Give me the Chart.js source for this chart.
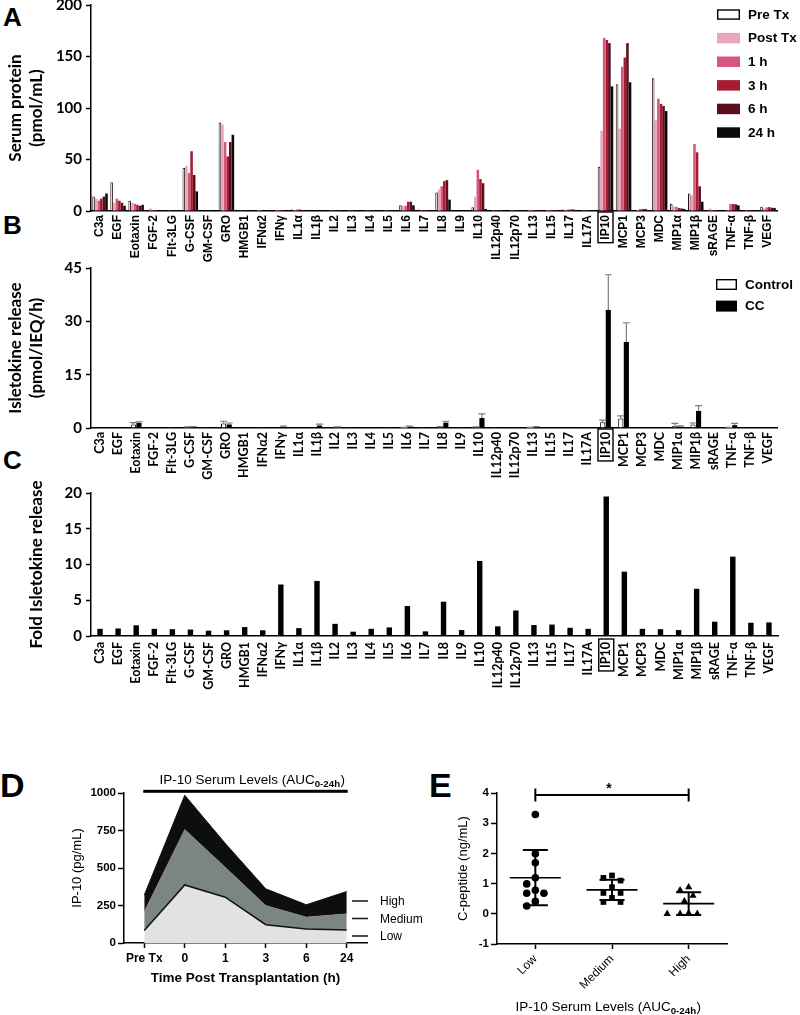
<!DOCTYPE html>
<html><head><meta charset="utf-8">
<script src="https://cdn.jsdelivr.net/npm/chart.js@4.4.0/dist/chart.umd.min.js"></script>
<style>
html,body{margin:0;padding:0;background:#fff;}
body{width:800px;height:1015px;position:relative;overflow:hidden;}
canvas{position:absolute;}
.lt{position:absolute;font-family:"Liberation Sans",Arial,sans-serif;font-weight:bold;line-height:1;color:#000;}
</style></head><body>
<div class="lt" style="left:3px;top:3.6px;font-size:26px">A</div>
<div class="lt" style="left:3px;top:211.6px;font-size:26px">B</div>
<div class="lt" style="left:3px;top:446.6px;font-size:26px">C</div>
<div class="lt" style="left:0px;top:767.6px;font-size:34px">D</div>
<div class="lt" style="left:429px;top:767.6px;font-size:34px">E</div>
<canvas id="cA" width="800" height="275" style="left:0;top:-10px"></canvas>
<canvas id="cB" width="800" height="230" style="left:0;top:255px"></canvas>
<canvas id="cC" width="800" height="215" style="left:0;top:480px"></canvas>
<canvas id="cD" width="430" height="315" style="left:0;top:700px"></canvas>
<canvas id="cE" width="400" height="315" style="left:400px;top:700px"></canvas>
<script>
// ---------- DATA ----------
const cytokines = ['C3a','EGF','Eotaxin','FGF-2','Flt-3LG','G-CSF','GM-CSF','GRO','HMGB1','IFNα2','IFNγ','IL1α','IL1β','IL2','IL3','IL4','IL5','IL6','IL7','IL8','IL9','IL10','IL12p40','IL12p70','IL13','IL15','IL17','IL17A','IP10','MCP1','MCP3','MDC','MIP1α','MIP1β','sRAGE','TNF-α','TNF-β','VEGF'];

// Panel A: serum protein (pmol/mL)
const serumPreTx  = [14,28,10,0.5,0.3,42,0.5,86,0.3,0.5,0.5,1.5,0.3,0.2,0.2,0.2,0.2,5.5,1.5,18,0.3,3.6,0.2,0.2,0.8,0.5,1.5,0.2,43,123,0.5,129,7,17,1,1,0.2,4.2];
const serumPostTx = [12,8,8,2.5,0.3,44,0.5,84,0.3,1,1,1,0.5,0.2,0.2,0.2,0.2,5,0.8,21,0.5,14,0.2,0.2,1,1,1,0.2,78,80,1,88,4.5,15,2.5,1,0.2,2.4];
const serum1h     = [10,12,7,1,0.3,37,0.5,67,0.3,0.8,1,1.5,0.5,0.2,0.2,0.2,0.2,5,0.8,24,0.5,40,0.2,0.2,1,1,1.5,0.2,168,140,2,109,4,65,1,6.8,0.2,3.5];
const serum3h     = [12,10,6,1,0.3,58,0.5,53,0.3,0.5,1,1.5,0.5,0.2,0.2,0.2,0.2,9,1,29,0.5,31,0.2,0.2,1,1,1.5,0.2,166,149,2,104,3,57,1,6.8,0.2,3.8];
const serum6h     = [14,8,5,0.5,0.3,35,0.5,67,0.3,0.5,1,1,0.3,0.2,0.2,0.2,0.2,9,1,30,0.5,27,0.2,0.2,1,1,1.5,0.2,163,163,2,102,2.5,24,0.8,6.5,0.2,3.2];
const serum24h    = [17,5,6,0.5,0.3,19,0.5,74,0.3,0.3,0.5,0.5,0.3,0.2,0.2,0.2,0.2,5.5,0.5,11,0.3,2,0.2,0.2,0.5,0.5,1,0.2,121,125,1,97,2,9,0.5,5.5,0.2,3];
const serumSeries = ['Pre Tx','Post Tx','1 h','3 h','6 h','24 h'];
const serumTicks = [0,50,100,150,200];

// Panel B: isletokine release (pmol/IEQ/h), mean and SD
const releaseControl   = [0.1,0.1,1.0,0.1,0.05,0.2,0.05,1.3,0.1,0.05,0.1,0.1,0.1,0.1,0.05,0.05,0.05,0.1,0.05,0.3,0.05,0.2,0.05,0.05,0.1,0.1,0.1,0.05,1.6,2.7,0.1,0.1,0.6,1.0,0.1,0.1,0.1,0.1];
const releaseControlSD = [0,0,0.5,0,0,0.1,0,0.6,0,0,0,0,0,0,0,0,0,0.1,0,0.1,0,0.1,0,0,0.1,0,0,0,0.6,0.7,0,0,0.7,0.4,0,0.1,0,0];
const releaseCC        = [0.1,0.1,1.4,0.1,0.05,0.3,0.1,1.0,0.1,0.05,0.3,0.1,0.7,0.2,0.05,0.1,0.1,0.3,0.05,1.5,0.05,2.8,0.1,0.2,0.3,0.2,0.15,0.05,33.2,24.2,0.1,0.1,0.4,4.8,0.2,0.8,0.2,0.2];
const releaseCCSD      = [0,0,0.3,0,0,0.1,0,0.4,0,0,0.2,0,0.4,0.1,0,0,0,0.2,0,0.4,0,1.2,0,0,0.1,0,0,0,9.9,5.4,0,0,0.2,1.5,0,0.5,0,0];
const releaseTicks = [0,15,30,45];

// Panel C: fold isletokine release
const foldRelease = [1.0,1.05,1.5,1.0,0.95,0.9,0.75,0.8,1.25,0.8,7.2,1.1,7.7,1.7,0.6,1.0,1.2,4.2,0.65,4.8,0.83,10.5,1.35,3.57,1.53,1.6,1.15,1.0,19.5,9.0,1.0,0.95,0.83,6.6,2.0,11.1,1.85,1.9];
const foldTicks = [0,5,10,15,20];

// Panel D: IP-10 serum levels (pg/mL)
const timePoints = ['Pre Tx','0','1','3','6','24'];
const ip10Low    = [84,387,305,122,93,86];
const ip10Medium = [208,757,505,250,173,195];
const ip10High   = [319,985,664,361,255,343];
const ip10Ticks = [0,250,500,750,1000];

// Panel E: C-peptide (ng/mL) per IP-10 group
const ip10Groups = ['Low','Medium','High'];
const cpepLow    = [3.29,1.99,1.69,1.19,0.99,0.78,0.68,0.68,0.41,0.26];
const cpepMedium = [1.27,1.10,1.19,0.88,0.69,0.69,0.53,0.39,0.39];
const cpepHigh   = [0.78,0.88,0.60,0.42,0.0,0.0,0.0,0.02];
const cpepTicks = [-1,0,1,2,3,4];

// ---------- HELPERS ----------
Chart.defaults.font.family = '"Liberation Sans", Arial, sans-serif';
Chart.defaults.color = '#000';
const LATO = 'Lato, "Liberation Sans", sans-serif';
const ARIAL = '"Liberation Sans", Arial, sans-serif';

function tickCb(list){ return { afterBuildTicks: s => { s.ticks = list.map(v => ({value:v})); } }; }
const plainNum = v => String(v);

function yAxis(min,max,ticks,title,titlePad,width){
  return Object.assign({
    type:'linear', min, max,
    grid:{drawOnChartArea:false, tickLength:5, tickColor:'#000', tickWidth:1.5},
    border:{color:'#000', width:1.5},
    ticks:{padding:4, color:'#000', font:{family:LATO, weight:'bold', size:15}, callback:plainNum},
    title:{display:true, text:title, color:'#000', font:{family:LATO, weight:'bold', size:17, lineHeight:1.25}, padding:{top:titlePad,bottom:0}},
    afterFit: s => { s.width = width; }
  }, tickCb(ticks));
}
function xCat(font, h, pad){
  return {
    type:'category', offset:true,
    grid:{display:false, drawTicks:false},
    border:{display:true, color:'#000', width:1.5},
    ticks:{autoSkip:false, minRotation:90, maxRotation:90, padding:pad, color:'#000', font},
    afterFit: s => { s.height = h; }
  };
}

const boxPlugin = { id:'ipbox', afterDraw(chart, args, o){
  const s = chart.scales.x; const idx = s.getLabels().indexOf('IP10'); if (idx < 0) return;
  const ctx = chart.ctx; ctx.save();
  ctx.font = o.font; const w = ctx.measureText('IP10').width;
  const x = s.getPixelForTick(idx) + (o.dx||0);
  ctx.strokeStyle = '#000'; ctx.lineWidth = 1.4;
  ctx.strokeRect(x - 7.5, s.top + o.pad - 3, 15, w + 6);
  ctx.restore();
}};

const legendPlugin = { id:'boxLegend', afterDraw(chart, args, o){
  const ctx = chart.ctx; ctx.save();
  chart.data.datasets.forEach((ds,i) => {
    const y = o.y + i*o.step;
    ctx.fillStyle = ds.backgroundColor; ctx.fillRect(o.x, y, o.w, o.h);
    if (ds.borderWidth) { ctx.strokeStyle = '#000'; ctx.lineWidth = 1.4; ctx.strokeRect(o.x+0.7, y+0.7, o.w-1.4, o.h-1.4); }
    ctx.fillStyle = '#000'; ctx.font = 'bold 13.5px ' + ARIAL; ctx.textBaseline = 'middle'; ctx.textAlign = 'left';
    ctx.fillText(ds.label, o.x + o.w + 8, y + o.h/2 + 0.5);
  });
  ctx.restore();
}};

const errPlugin = { id:'errbars', afterDatasetsDraw(chart){
  const ctx = chart.ctx, ys = chart.scales.y;
  chart.data.datasets.forEach((ds,di) => {
    if (!ds.sd) return;
    const meta = chart.getDatasetMeta(di);
    meta.data.forEach((bar,i) => {
      const e = ds.sd[i]; if (!e) return;
      const yTop = ys.getPixelForValue(ds.data[i] + e);
      ctx.save(); ctx.strokeStyle = '#7d7d7d'; ctx.lineWidth = 1.2;
      ctx.beginPath(); ctx.moveTo(bar.x, bar.y); ctx.lineTo(bar.x, yTop);
      ctx.moveTo(bar.x-3.5, yTop); ctx.lineTo(bar.x+3.5, yTop); ctx.stroke(); ctx.restore();
    });
  });
}};

const baseOpts = { responsive:false, animation:false, devicePixelRatio:1, events:[] };

// ---------- PANEL A ----------
const serumColors = ['#ffffff','#eaa6be','#d4587c','#a61c30','#5a0f1e','#0b0b0b'];
const serumData = [serumPreTx, serumPostTx, serum1h, serum3h, serum6h, serum24h];
new Chart(document.getElementById('cA'), {
  type:'bar',
  data:{ labels:cytokines, datasets: serumSeries.map((n,i) => ({
    label:n, data:serumData[i], backgroundColor:serumColors[i],
    borderColor: i===0 ? '#2a0f14' : serumColors[i], borderWidth: i===0 ? 1 : 0,
    categoryPercentage:0.86, barPercentage:1.0 })) },
  options: Object.assign({}, baseOpts, {
    layout:{padding:{top:15,left:0,right:23,bottom:0}},
    plugins:{legend:{display:false}, tooltip:{enabled:false},
      boxLegend:{x:717, y:19.3, step:23.6, w:23, h:10.5},
      ipbox:{font:'bold 12px '+ARIAL, pad:4}},
    scales:{
      x: xCat({family:ARIAL, weight:'bold', size:12}, 54, 4),
      y: yAxis(0,200,serumTicks,['Serum protein','(pmol/mL)'],4.5,91)
    }
  }),
  plugins:[legendPlugin, boxPlugin]
});

// ---------- PANEL B ----------
new Chart(document.getElementById('cB'), {
  type:'bar',
  data:{ labels:cytokines, datasets:[
    {label:'Control', data:releaseControl, sd:releaseControlSD, backgroundColor:'#ffffff', borderColor:'#000', borderWidth:1, categoryPercentage:0.62, barPercentage:0.92},
    {label:'CC', data:releaseCC, sd:releaseCCSD, backgroundColor:'#000000', borderColor:'#000', borderWidth:0, categoryPercentage:0.62, barPercentage:0.92}
  ]},
  options: Object.assign({}, baseOpts, {
    layout:{padding:{top:11,left:0,right:23,bottom:0}},
    plugins:{legend:{display:false}, tooltip:{enabled:false},
      boxLegend:{x:716, y:24, step:21.6, w:21, h:11},
      ipbox:{font:'bold 12.5px '+LATO, pad:4}},
    scales:{
      x: xCat({family:LATO, weight:'bold', size:12.5}, 57, 4),
      y: yAxis(0,45,releaseTicks,['Isletokine release','(pmol/IEQ/h)'],4.5,91)
    }
  }),
  plugins:[errPlugin, legendPlugin, boxPlugin]
});

// ---------- PANEL C ----------
new Chart(document.getElementById('cC'), {
  type:'bar',
  data:{ labels:cytokines, datasets:[
    {label:'Fold', data:foldRelease, backgroundColor:'#000', categoryPercentage:1, barPercentage:0.3}
  ]},
  options: Object.assign({}, baseOpts, {
    layout:{padding:{top:12,left:0,right:22,bottom:0}},
    plugins:{legend:{display:false}, tooltip:{enabled:false},
      ipbox:{font:'bold 12.5px '+LATO, pad:6}},
    scales:{
      x: xCat({family:LATO, weight:'bold', size:12.5}, 59, 6),
      y: yAxis(0,20,foldTicks,'Fold Isletokine release',25.4,91)
    }
  }),
  plugins:[boxPlugin]
});

// ---------- text with subscript ----------
function drawSub(ctx, cx, base, main, sub, tail, size){
  const fm = size + 'px ' + ARIAL, fs = 'bold ' + (size*0.72) + 'px ' + ARIAL;
  ctx.font = fm; const w1 = ctx.measureText(main).width, w3 = ctx.measureText(tail).width;
  ctx.font = fs; const w2 = ctx.measureText(sub).width;
  let x = cx - (w1+w2+w3)/2;
  ctx.textAlign = 'left'; ctx.textBaseline = 'alphabetic'; ctx.fillStyle = '#000';
  ctx.font = fm; ctx.fillText(main, x, base); x += w1;
  ctx.font = fs; ctx.fillText(sub, x, base + 3); x += w2 + 0.5;
  ctx.font = fm; ctx.fillText(tail, x, base);
}

// ---------- PANEL D ----------
const dDecor = { id:'dDecor', afterDraw(chart){
  const ctx = chart.ctx, xs = chart.scales.x; ctx.save();
  drawSub(ctx, 252, 84, 'IP-10 Serum Levels (AUC', '0-24h', ')', 13.5);
  ctx.fillStyle = '#000';
  ctx.fillRect(xs.getPixelForValue(0) - 1, 89.8, xs.getPixelForValue(timePoints.length-1) - xs.getPixelForValue(0) + 2, 3);
  // legend
  const items = chart.data.datasets.slice().reverse();
  ctx.font = '12px ' + ARIAL; ctx.textBaseline = 'middle';
  items.forEach((ds,i) => {
    const y = 201 + i*17.5;
    ctx.strokeStyle = '#222'; ctx.lineWidth = 1.6;
    ctx.beginPath(); ctx.moveTo(352, y); ctx.lineTo(368, y); ctx.stroke();
    ctx.fillStyle = '#000'; ctx.fillText(ds.label, 380, y + 1);
  });
  ctx.restore();
}};
new Chart(document.getElementById('cD'), {
  type:'line',
  data:{ labels:timePoints, datasets:[
    {label:'Low', data:ip10Low, fill:'origin', backgroundColor:'#e2e2e2', borderColor:'#111', borderWidth:1.5},
    {label:'Medium', data:ip10Medium, fill:'-1', backgroundColor:'#7b8583', borderColor:'#7b8583', borderWidth:0.5},
    {label:'High', data:ip10High, fill:'-1', backgroundColor:'#0e0e0e', borderColor:'#0e0e0e', borderWidth:1}
  ]},
  options: Object.assign({}, baseOpts, {
    layout:{padding:{top:93,left:0,right:63,bottom:0}},
    elements:{point:{radius:0}, line:{tension:0}},
    plugins:{legend:{display:false}, tooltip:{enabled:false}},
    scales:{
      x:{ type:'category', offset:true,
        grid:{drawOnChartArea:false, tickLength:5, tickColor:'#000', tickWidth:1.5},
        border:{color:'#000', width:1.5},
        ticks:{maxRotation:0, padding:3, color:'#000', font:{family:ARIAL, weight:'bold', size:12}},
        title:{display:true, text:'Time Post Transplantation (h)', color:'#000', font:{family:ARIAL, weight:'bold', size:13.5}, padding:{top:0,bottom:29}},
        afterFit: s => { s.height = 72; } },
      y: Object.assign({ type:'linear', min:0, max:1000,
        grid:{drawOnChartArea:false, tickLength:6, tickColor:'#000', tickWidth:1.5},
        border:{color:'#000', width:1.5},
        ticks:{padding:2, color:'#000', font:{family:ARIAL, weight:'bold', size:11.5}, callback:plainNum},
        title:{display:true, text:'IP-10 (pg/mL)', color:'#000', font:{family:ARIAL, size:13}, padding:{top:69.5,bottom:0}},
        afterFit: s => { s.width = 124; } }, tickCb(ip10Ticks))
    }
  }),
  plugins:[dDecor]
});

// ---------- PANEL E ----------
const swarm = { id:'swarm', afterDatasetsUpdate(chart){
  const diam = 8.6, step = 4.3;
  const cands = [0]; for (let m=1; m<12; m++){ cands.push(-m*step, m*step); }
  chart.data.datasets.forEach((ds,di) => {
    const els = chart.getDatasetMeta(di).data;
    const order = els.map((e,i) => i).sort((a,b) => els[a].y - els[b].y);
    const placed = [];
    order.forEach(i => {
      const e = els[i]; const x0 = e.x;
      for (const off of cands){
        const ok = placed.every(p => (p.x-(x0+off))**2 + (p.y-e.y)**2 >= diam*diam);
        if (ok){ e.x = x0 + off; break; }
      }
      placed.push({x:e.x, y:e.y});
    });
  });
}};
const eDecor = { id:'eDecor', afterDatasetsDraw(chart){
  const ctx = chart.ctx, xs = chart.scales.x, ys = chart.scales.y; ctx.save();
  ctx.strokeStyle = '#000';
  [cpepLow, cpepMedium, cpepHigh].forEach((arr,gi) => {
    const n = arr.length, mean = arr.reduce((a,b)=>a+b,0)/n;
    const sd = Math.sqrt(arr.reduce((a,b)=>a+(b-mean)**2,0)/(n-1));
    const x = xs.getPixelForValue(gi), ym = ys.getPixelForValue(mean);
    const yt = ys.getPixelForValue(mean+sd), yb = ys.getPixelForValue(mean-sd);
    ctx.lineWidth = 1.6;
    ctx.beginPath(); ctx.moveTo(x-25.5, ym); ctx.lineTo(x+25.5, ym); ctx.stroke();
    ctx.lineWidth = 2;
    ctx.beginPath(); ctx.moveTo(x, yt); ctx.lineTo(x, yb);
    ctx.moveTo(x-12.5, yt); ctx.lineTo(x+12.5, yt);
    ctx.moveTo(x-12.5, yb); ctx.lineTo(x+12.5, yb); ctx.stroke();
  });
  // significance bar Low vs High
  const x1 = xs.getPixelForValue(0), x2 = xs.getPixelForValue(2), yb = ys.getPixelForValue(3.93);
  ctx.lineWidth = 2;
  ctx.beginPath(); ctx.moveTo(x1, yb); ctx.lineTo(x2, yb);
  ctx.moveTo(x1, yb-6.5); ctx.lineTo(x1, yb+6.5); ctx.moveTo(x2, yb-6.5); ctx.lineTo(x2, yb+6.5); ctx.stroke();
  ctx.fillStyle = '#000'; ctx.font = 'bold 14px ' + ARIAL; ctx.textAlign = 'center'; ctx.textBaseline = 'alphabetic';
  ctx.fillText('*', (x1+x2)/2 - 3, yb - 2);
  drawSub(ctx, 208, 311, 'IP-10 Serum Levels (AUC', '0-24h', ')', 13.5);
  ctx.restore();
}};
new Chart(document.getElementById('cE'), {
  type:'scatter',
  data:{ labels:ip10Groups, datasets:[
    {label:'Low', data:cpepLow.map(v => ({x:'Low', y:v})), pointStyle:'circle', radius:3.8},
    {label:'Medium', data:cpepMedium.map(v => ({x:'Medium', y:v})), pointStyle:'rect', radius:4},
    {label:'High', data:cpepHigh.map(v => ({x:'High', y:v})), pointStyle:'triangle', radius:4.2}
  ].map(d => Object.assign(d, {backgroundColor:'#000', borderColor:'#000', borderWidth:0, pointRadius:d.radius}))},
  options: Object.assign({}, baseOpts, {
    layout:{padding:{top:93,left:0,right:73,bottom:0}},
    plugins:{legend:{display:false}, tooltip:{enabled:false}},
    scales:{
      x:{ type:'category', labels:ip10Groups, offset:true,
        grid:{drawOnChartArea:false, tickLength:5, tickColor:'#000', tickWidth:1.5},
        border:{color:'#000', width:1.5},
        ticks:{minRotation:45, maxRotation:45, padding:3, color:'#000', font:{family:ARIAL, size:12}},
        afterFit: s => { s.height = 71; } },
      y: Object.assign({ type:'linear', min:-1, max:4,
        grid:{drawOnChartArea:false, tickLength:6, tickColor:'#000', tickWidth:1.5},
        border:{color:'#000', width:1.5},
        ticks:{padding:2, color:'#000', font:{family:ARIAL, weight:'bold', size:11.5}, callback:plainNum},
        title:{display:true, text:'C-peptide (ng/mL)', color:'#000', font:{family:ARIAL, size:13}, padding:{top:56,bottom:0}},
        afterFit: s => { s.width = 97; } }, tickCb(cpepTicks))
    }
  }),
  plugins:[swarm, eDecor]
});
</script>
</body></html>
